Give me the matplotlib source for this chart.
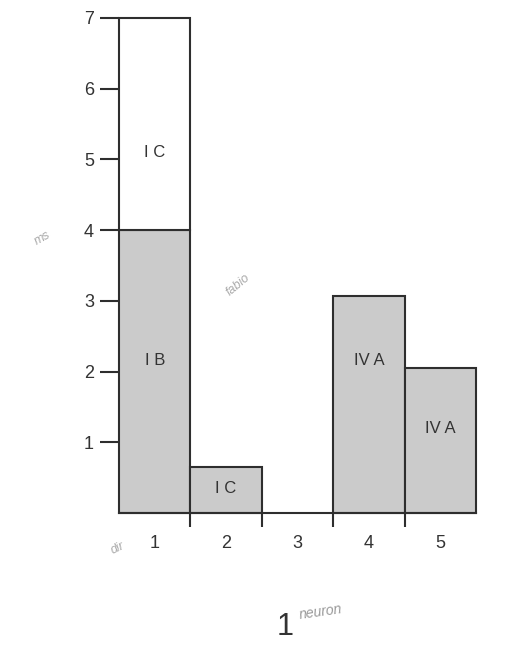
import matplotlib.pyplot as plt

plt.rcParams['font.family'] = ['Liberation Sans', 'DejaVu Sans']

# data
positions = [1, 2, 3, 4, 5]
lower_vals = [4.0, 0.65, 0.0, 3.07, 2.05]
upper_vals = [3.0, 0.0, 0.0, 0.0, 0.0]
lower_labels = ['I B', 'I C', '', 'IV A', 'IV A']
upper_labels = ['I C', '', '', '', '']
lower_label_y = [2.15, 0.34, 0, 2.15, 1.2]
upper_label_y = [5.1, 0, 0, 0, 0]
yticks = [1, 2, 3, 4, 5, 6, 7]

W, H = 529, 649
fig = plt.figure(figsize=(W / 100, H / 100), dpi=100)
fig.patch.set_facecolor('white')
ax = fig.add_axes([119 / W, 1 - 513 / H, (476 - 119) / W, (513 - 18) / H])

edge = '#2e2e2e'
gray = '#cbcbcb'
for x, lo, up in zip(positions, lower_vals, upper_vals):
    if lo > 0:
        ax.bar(x, lo, width=1.0, color=gray, edgecolor=edge, linewidth=1.5, clip_on=False)
    if up > 0:
        ax.bar(x, up, bottom=lo, width=1.0, color='white', edgecolor=edge, linewidth=1.5, clip_on=False)

for x, lab, y in zip(positions, lower_labels, lower_label_y):
    if lab:
        ax.text(x, y, lab, ha='center', va='center', fontsize=12, color='#333333')
for x, lab, y in zip(positions, upper_labels, upper_label_y):
    if lab:
        ax.text(x, y, lab, ha='center', va='center', fontsize=12, color='#333333')

ax.set_xlim(0.5, 5.5)
ax.set_ylim(0, 7)
for s in ['top', 'right', 'left']:
    ax.spines[s].set_visible(False)
ax.spines['bottom'].set_color(edge)
ax.spines['bottom'].set_linewidth(1.5)

ax.set_yticks(yticks)
ax.tick_params(axis='y', length=14, width=1.5, color=edge, pad=4, labelsize=13, labelcolor='#333333')
ax.set_xticks(positions)
ax.set_xticklabels([str(p) for p in positions])
ax.tick_params(axis='x', which='major', length=0, pad=16, labelsize=13, labelcolor='#333333')
ax.set_xticks([1.5, 2.5, 3.5, 4.5], minor=True)
ax.tick_params(axis='x', which='minor', length=10, width=1.5, color=edge)

# printed page number and faint handwritten notes from the scan
fig.text(285 / W, 1 - 627 / H, '1', fontsize=22, ha='center', va='center', color='#333333')
fig.text(298 / W, 1 - 612 / H, 'neuron', fontsize=10, style='italic', color='#999999',
         rotation=8, ha='left', va='center')
fig.text(118 / W, 1 - 548 / H, 'dir', fontsize=9, style='italic', color='#aaaaaa',
         rotation=25, ha='center', va='center')
fig.text(42 / W, 1 - 238 / H, 'ms', fontsize=9, style='italic', color='#aaaaaa',
         rotation=30, ha='center', va='center')
fig.text(238 / W, 1 - 285 / H, 'fabio', fontsize=9, style='italic', color='#aaaaaa',
         rotation=40, ha='center', va='center')

fig.savefig('out.png', dpi=100, facecolor=fig.get_facecolor())
